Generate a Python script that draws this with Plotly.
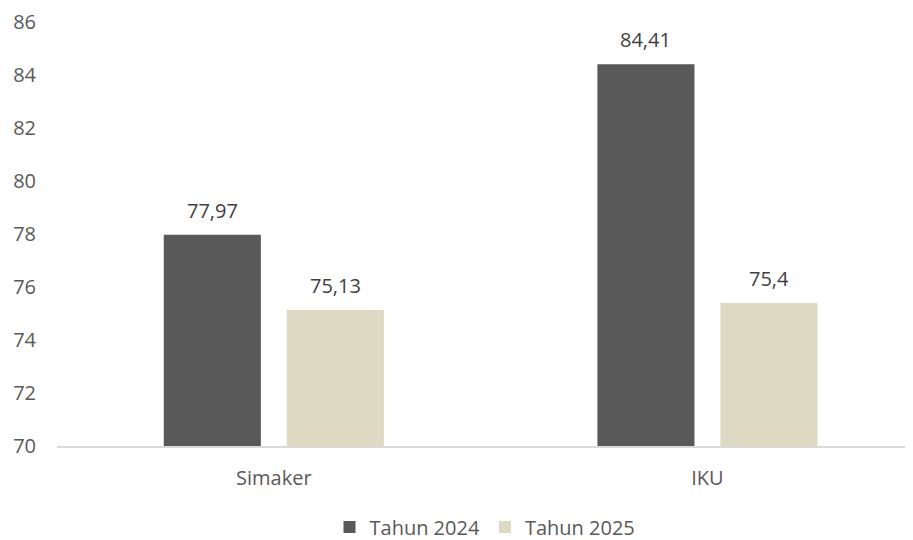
import plotly.graph_objects as go

categories = ["Simaker", "IKU"]
series_names = ["Tahun 2024", "Tahun 2025"]
values_2024 = [77.97, 84.41]
values_2025 = [75.13, 75.4]
colors = ["#595959", "#DDD9C3"]
tick_vals = [70, 72, 74, 76, 78, 80, 82, 84, 86]
y_min, y_max = 70, 86

def fmt(v):
    return ("%g" % v).replace(".", ",")

fig = go.Figure()
all_vals = [values_2024, values_2025]
for name, vals, col in zip(series_names, all_vals, colors):
    fig.add_trace(go.Bar(
        x=categories, y=vals, name=name, marker=dict(color=col, line=dict(width=0)),
    ))

# value labels
bar_offsets = [-61.5, 61.5]
for i, vals in enumerate(all_vals):
    for c, v in zip(categories, vals):
        fig.add_annotation(x=c, y=v, text=fmt(v), showarrow=False, xshift=bar_offsets[i],
                           yanchor="bottom", yshift=9,
                           font=dict(family="Open Sans", size=20, color="#404040"))

fig.update_layout(
    width=905, height=532,
    margin=dict(l=49, r=0, t=14, b=94),
    paper_bgcolor="white", plot_bgcolor="white",
    barmode="group", bargap=0.4325, bargroupgap=0.211,
    font=dict(family="Open Sans", size=20, color="#595959"),
    showlegend=True,
    legend=dict(orientation="h", x=0.5, xanchor="center", yref="container", y=0.0244,
                yanchor="middle", font=dict(size=20, color="#595959"), traceorder="normal",
                itemwidth=30),
    xaxis=dict(range=[-0.5, 1.474], showline=True, linecolor="#D9D9D9", linewidth=1.5,
               ticks="", showgrid=False, automargin=False, ticklabelstandoff=13,
               tickfont=dict(size=20, color="#595959")),
    yaxis=dict(range=[y_min, y_max], tickvals=tick_vals, showgrid=False, zeroline=False,
               showline=False, ticks="", automargin=False, ticklabelstandoff=20,
               tickfont=dict(size=20, color="#595959")),
)
fig.write_html("out.html")
